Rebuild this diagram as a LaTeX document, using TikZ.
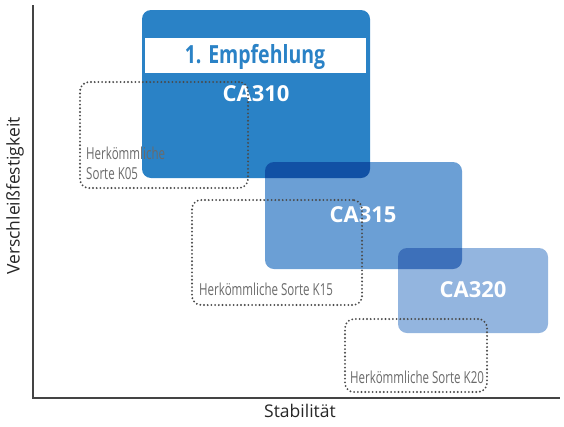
\documentclass[tikz,border=0pt]{standalone}
\usepackage{fontspec}
\setmainfont{Open Sans}
\newfontfamily\condfont[FakeStretch=0.70]{Open Sans}
\newfontfamily\condbold[FakeStretch=0.78]{Open Sans}
\definecolor{caA}{HTML}{2A82C6}
\definecolor{caB}{HTML}{6B9FD5}
\definecolor{caC}{HTML}{93B5DF}
\definecolor{axisc}{HTML}{444444}
\definecolor{dotc}{HTML}{4A4A4A}
\definecolor{greyt}{HTML}{6A6A6A}
\tikzset{
  prodbox/.style={rectangle, rounded corners=9pt, inner sep=0pt, draw=none},
  oldbox/.style={rectangle, rounded corners=9pt, inner sep=0pt, draw=dotc, line width=2.1pt, dash pattern=on 0pt off 3.7pt, line cap=round},
  prodlabel/.style={text=white, font=\fontsize{22}{24}\selectfont\bfseries, inner sep=0pt},
  oldlabel/.style={text=greyt, font=\condfont\fontsize{16.5}{20}\selectfont, inner sep=0pt, align=left, anchor=west},
  axislabel/.style={text=black!85, font=\fontsize{17.5}{20}\selectfont, inner sep=0pt},
  axisline/.style={draw=axisc, line width=1.3pt}
}
\begin{document}
\begin{tikzpicture}[x=1pt,y=-1pt]
\useasboundingbox (0,0) rectangle (564,426);
% axes
\coordinate (top) at (33,5);
\coordinate (orig) at (33,398);
\coordinate (right) at (560,398);
\draw[axisline] (top) -- (orig) -- (right);
\node[axislabel, rotate=90] (ylab) at (15,196) {Verschleißfestigkeit};
\node[axislabel] (xlab) at (300,411) {Stabilität};
% CA310
\node[prodbox, fill=caA, minimum width=228pt, minimum height=168pt] (b310) at (256,94) {};
\node[rectangle, fill=white, inner sep=0pt, minimum width=221pt, minimum height=35pt] (banner) at (255.5,55.5) {};
\node[text=caA, inner sep=0pt, font=\condbold\fontsize{25}{28}\selectfont\bfseries] (emp) at (255,57) {1. Empfehlung};
\node[prodlabel] (t310) at (256,94) {CA310};
% CA315, CA320 (multiply)
\begin{scope}[blend mode=multiply]
\node[prodbox, fill=caB, minimum width=197pt, minimum height=107pt] (b315) at (363.5,215.5) {};
\node[prodbox, fill=caC, minimum width=150pt, minimum height=85pt] (b320) at (473,290.5) {};
\end{scope}
\node[prodlabel] (t315) at (363,215) {CA315};
\node[prodlabel] (t320) at (473,290) {CA320};
% conventional grades
\node[oldbox, minimum width=168pt, minimum height=106pt] (k05) at (164,135) {};
\node[oldbox, minimum width=170pt, minimum height=105pt] (k15) at (277,252.5) {};
\node[oldbox, minimum width=142pt, minimum height=73pt] (k20) at (416,355.5) {};
\node[oldlabel] (tk05) at (86,163) {Herkömmliche\\Sorte K05};
\node[oldlabel] (tk15) at (199,289) {Herkömmliche Sorte K15};
\node[oldlabel] (tk20) at (350,377) {Herkömmliche Sorte K20};
\end{tikzpicture}
\end{document}
